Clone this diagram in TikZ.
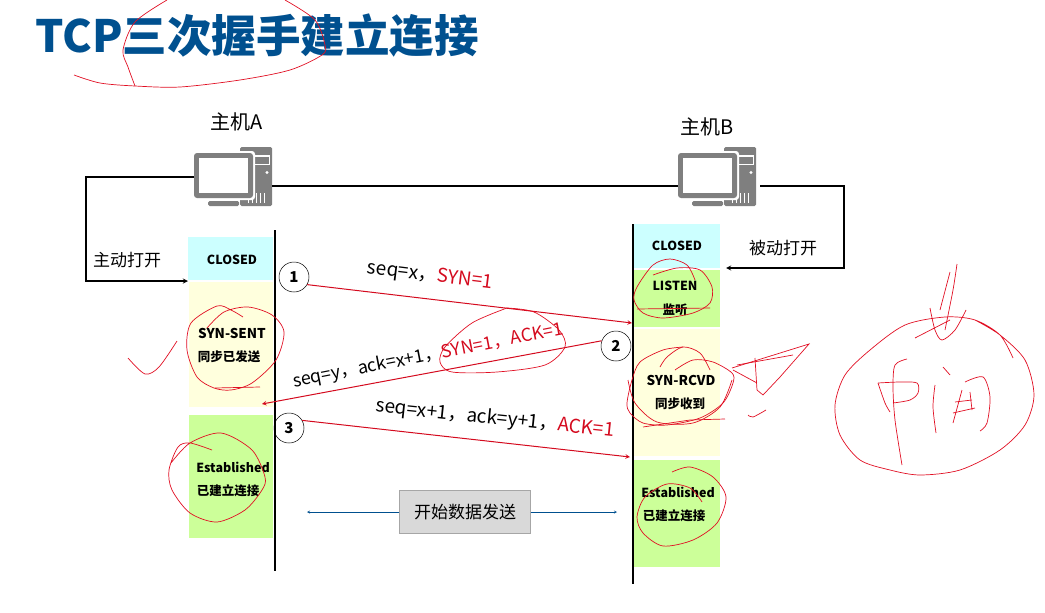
\documentclass[tikz,border=0pt]{standalone}
\usepackage{fontspec}
\setmainfont{Noto Sans CJK SC}
\definecolor{titleblue}{RGB}{0,80,143}
\definecolor{iconbody}{RGB}{127,127,127}
\definecolor{statecyan}{RGB}{204,255,255}
\definecolor{stateyellow}{RGB}{255,255,221}
\definecolor{stategreen}{RGB}{204,255,153}
\definecolor{inkred}{RGB}{225,15,35}
\definecolor{msgred}{RGB}{212,10,30}
\newcommand{\fsize}[1]{\fontsize{#1}{#1}\selectfont}
\begin{document}
\begin{tikzpicture}[x=1pt, y=-1pt,
  statebox/.style={rectangle, anchor=north west, inner sep=0pt, outer sep=0pt},
  state/.style={font=\fsize{12.5}\bfseries, inner sep=0pt},
  label/.style={font=\fsize{17}, inner sep=0pt},
  msg/.style={font=\fsize{19}, inner sep=0pt},
  stepmark/.style={circle, draw, line width=0.5pt, minimum size=30pt, inner sep=0pt, font=\fsize{15}\bfseries},
  wire/.style={draw=black, line width=1.3pt},
  ink/.style={draw=inkred, line width=0.7pt},
  tip/.style={-stealth}]

  \useasboundingbox (0,0) rectangle (1045,613);
  \node[font=\fsize{44.5}\bfseries, text=titleblue, inner sep=0pt] (title) at (257,36) {TCP三次握手建立连接};

  % state columns
  \node[statebox, fill=statecyan, minimum width=85pt, minimum height=43pt] (aclosed) at (188,237) {};
  \node[statebox, fill=stateyellow, minimum width=84pt, minimum height=125pt] (asent) at (189,282) {};
  \node[statebox, fill=stategreen, minimum width=84pt, minimum height=123pt] (aest) at (189,415) {};
  \node[statebox, fill=statecyan, minimum width=86pt, minimum height=44pt] (bclosed) at (634,224) {};
  \node[statebox, fill=stategreen, minimum width=86pt, minimum height=57pt] (blisten) at (634,270) {};
  \node[statebox, fill=stateyellow, minimum width=86pt, minimum height=127pt] (brcvd) at (634,329) {};
  \node[statebox, fill=stategreen, minimum width=86pt, minimum height=107pt] (best) at (634,460) {};

  \node[state] (t1) at (232,260) {CLOSED};
  \node[state, font=\fsize{13.5}\bfseries] (t2) at (232,333) {SYN-SENT};
  \node[state] (t3) at (229,357) {同步已发送};
  \node[state] (t4) at (233,467) {Established};
  \node[state] (t5) at (228,491) {已建立连接};
  \node[state] (t6) at (677,246) {CLOSED};
  \node[state] (t7) at (675,286) {LISTEN};
  \node[state] (t8) at (675,310) {监听};
  \node[state, font=\fsize{13.5}\bfseries] (t9) at (681,380) {SYN-RCVD};
  \node[state] (t10) at (680,404) {同步收到};
  \node[state] (t11) at (678,492) {Established};
  \node[state] (t12) at (674,516) {已建立连接};

  % hosts
  \foreach \dx/\nm in {0/a,484/b} {
    \begin{scope}[xshift=\dx pt]
      \fill[iconbody, rounded corners=1.5pt] (240,147) rectangle (272,206);
      \fill[iconbody, rounded corners=1.5pt] (208,201) rectangle (239,206);
      \fill[white] (254,155) rectangle (270,165);
      \fill[iconbody] (255,157) rectangle (269,164);
      \fill[white] (267,172.5) circle (1.6);
      \foreach \gx in {248,252,256,260,264} \draw[white, line width=0.7pt] (\gx,193) -- (\gx,203);
      \fill[white, rounded corners=3pt] (192,151) rectangle (255,200);
      \fill[iconbody, rounded corners=3pt] (194,153) rectangle (253,198);
      \fill[white] (199,158) rectangle (248,193);
      \coordinate (\nm west) at (194,177);
    \end{scope}
  }
  \coordinate (aeast) at (272,186);
  \coordinate (bwest2) at (678,186);
  \coordinate (beast) at (760,186);
  \node[label, font=\fsize{20}] (hosta) at (237,122) {主机A};
  \node[label, font=\fsize{20}] (hostb) at (707,127) {主机B};
  \node[label] (opena) at (127,260) {主动打开};
  \node[label] (openb) at (783,248) {被动打开};
  \coordinate (aentry) at (188,281);
  \coordinate (bentry) at (726,268);
  \draw[wire, tip] (awest) -- (86,177) -- (86,281) -- (aentry);
  \draw[wire] (aeast) -- (bwest2);
  \draw[wire, tip] (beast) -- (844,186) -- (844,268) -- (bentry);

  % lifelines
  \coordinate (atop) at (275,230);
  \coordinate (abot) at (275,571);
  \coordinate (btop) at (633,224);
  \coordinate (bbot) at (633,584);
  \draw[line width=1.2pt] (atop) -- (abot);
  \draw[line width=1.2pt] (btop) -- (bbot);

  % messages
  \node[stepmark] (m1) at (294,277) {1};
  \node[stepmark] (m2) at (616,346) {2};
  \node[stepmark] (m3) at (289,428) {3};
  \coordinate (e1) at (632,323);
  \coordinate (e2) at (262,404);
  \coordinate (e3) at (630,457);
  \draw[msgred, line width=1pt, tip] (m1.-30) -- (e1);
  \draw[msgred, line width=1pt, tip] (m2.160) -- (e2);
  \draw[msgred, line width=1pt, tip] (m3.30) -- (e3);
  \node[msg, rotate=-7] (l1) at (430,276) {seq=x，\textcolor{msgred}{SYN=1}};
  \node[msg, font=\fsize{17.8}, rotate=11] (l2) at (428,356) {seq=y，ack=x+1，\textcolor{msgred}{SYN=1，ACK=1}};
  \node[msg, rotate=-6] (l3) at (495,419) {seq=x+1，ack=y+1，\textcolor{msgred}{ACK=1}};

  % data transfer
  \node[rectangle, draw=black!35, fill=black!15, minimum width=131pt, minimum height=43pt, inner sep=0pt, font=\fsize{17}] (data) at (465,512) {开始数据发送};
  \coordinate (dl) at (307,512);
  \coordinate (dr) at (617,512);
  \draw[titleblue, tip] (data) -- (dl);
  \draw[titleblue, tip] (data) -- (dr);

  % pen strokes
  \draw[ink] plot[smooth] coordinates {(167,0) (135,22) (123,50) (128,67) (135,86)};
  \draw[ink] plot[smooth] coordinates {(74,75) (100,83) (135,86) (180,87) (240,80) (290,70) (322,55) (325,45) (315,20) (285,0)};
  \draw[ink] plot[smooth] coordinates {(207,328) (224,312) (248,307) (272,315) (284,332) (276,360) (252,383) (231,390) (214,388) (197,377) (187,350) (191,323) (217,306) (231,310) (243,317)};
  \draw[ink] (215,388) -- (260,387);
  \draw[ink] plot[smooth] coordinates {(128,358) (145,374) (159,367) (177,341)};
  \draw[ink] plot[smooth] coordinates {(212,450) (190,443) (178,447) (169,470) (172,490) (190,513) (217,522) (245,510) (262,490) (265,477) (252,450) (221,433) (190,443) (171,463)};
  \draw[ink] plot[smooth] coordinates {(507,308) (534,312) (559,330) (565,347) (545,365) (497,372) (452,372) (440,362) (445,347) (472,323) (507,308)};
  \draw[ink] plot[smooth] coordinates {(653,275) (677,268) (700,270) (712,287) (710,303) (693,313) (663,318) (643,313) (634,300) (637,287) (653,265) (670,259) (687,265) (695,280)};
  \draw[ink] (637,309) -- (710,308);
  \draw[ink] plot[smooth] coordinates {(660,367) (667,357) (683,347) (700,353) (710,370)};
  \draw[ink] plot[smooth] coordinates {(675,370) (693,360) (713,362) (732,373) (733,383) (723,403) (700,418) (667,425) (643,423) (630,413) (627,403) (632,380) (640,362) (663,350) (683,347)};
  \draw[ink] plot[smooth] coordinates {(628,380) (635,403) (657,422) (693,423) (720,407) (732,380)};
  \draw[ink] (643,427) -- (690,420) -- (725,419);
  \draw[ink] (732,368) -- (809,344) -- (780,377) -- (763,395) -- (757,390) -- (755,358);
  \draw[ink] (733,370) -- (757,383);
  \draw[ink] (737,365) -- (793,355);
  \draw[ink] plot[smooth] coordinates {(748,415) (753,417) (766,410)};
  \draw[ink] plot[smooth] coordinates {(672,472) (690,467) (713,477) (726,497) (717,523) (693,540) (663,546) (643,533) (637,517) (645,497) (667,484) (690,488) (702,502)};
  \draw[ink] plot[smooth] coordinates {(1013,358) (1000,335) (975,320) (945,317) (905,325) (870,350) (845,375) (835,405) (840,435) (860,460) (890,470) (920,475) (960,470) (1000,450) (1025,425) (1034,395) (1025,360) (1000,335) (975,320)};
  \draw[ink] plot[smooth] coordinates {(957,264) (953,290) (945,330)};
  \draw[ink] (950,272) -- (940,310);
  \draw[ink] plot[smooth] coordinates {(930,308) (935,330) (942,340) (955,330) (966,310)};
  \draw[ink] (915,338) -- (950,320);
  \draw[ink] plot[smooth] coordinates {(878,383) (885,403) (890,412)};
  \draw[ink] plot[smooth] coordinates {(878,383) (900,382) (917,383) (918,393) (910,400) (893,403)};
  \draw[ink] plot[smooth] coordinates {(907,359) (895,365) (893,387) (895,420) (902,465)};
  \draw[ink] plot[smooth] coordinates {(935,385) (933,407) (936,433)};
  \draw[ink] (943,367) -- (950,375);
  \draw[ink] plot[smooth] coordinates {(965,382) (983,377) (990,397) (987,423) (980,431)};
  \draw[ink] (962,390) -- (953,423);
  \draw[ink] (953,413) -- (975,408);
  \draw[ink] (955,402) -- (972,400);
  \draw[ink] (970,392) -- (972,410);
\end{tikzpicture}
\end{document}
